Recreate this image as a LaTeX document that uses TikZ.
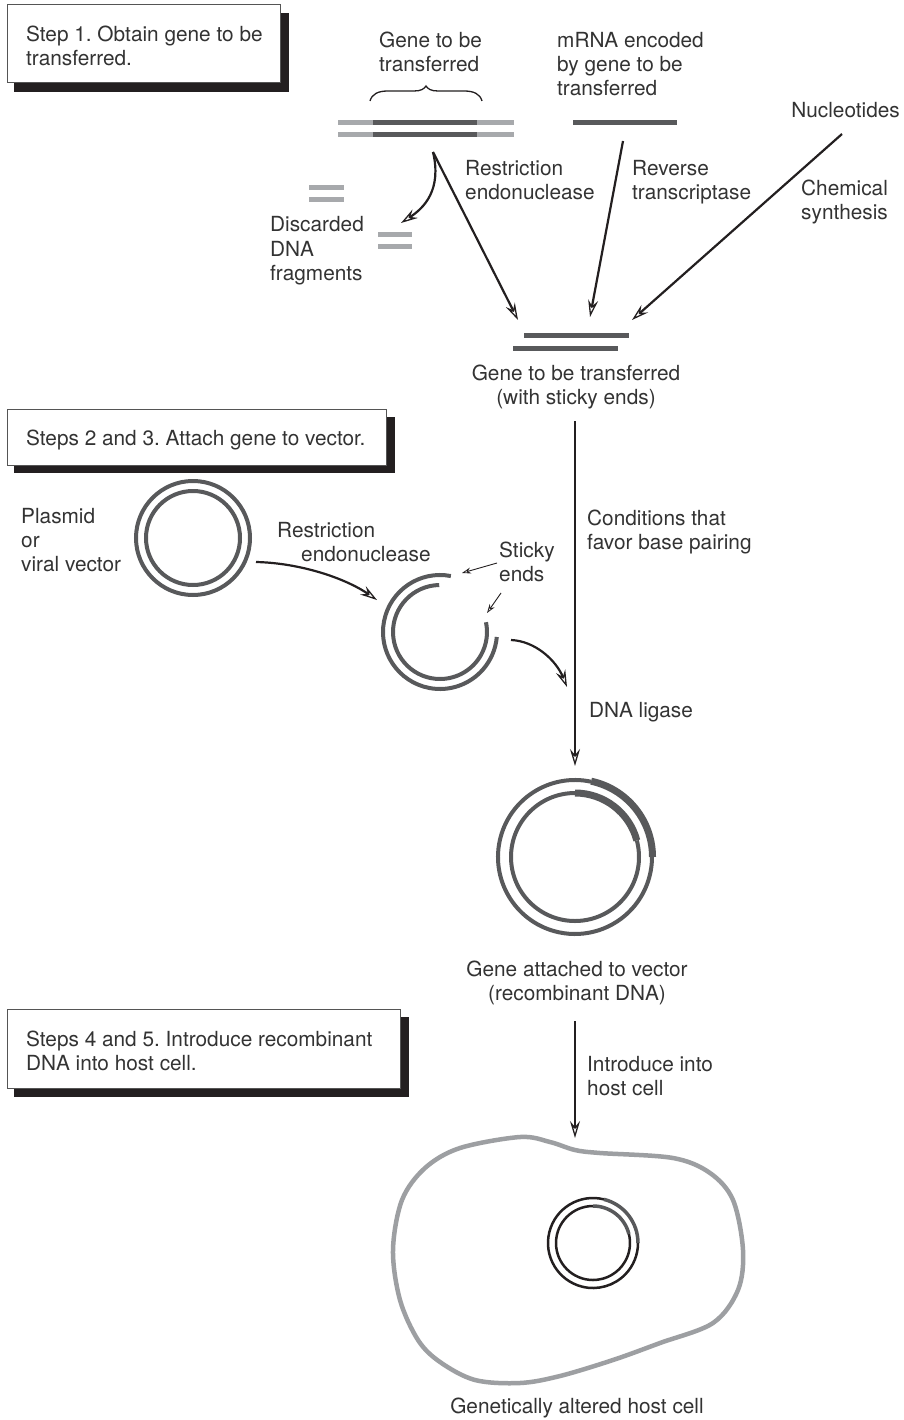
\documentclass[tikz,border=0pt]{standalone}
\usepackage{fontspec}
\setmainfont{TeX Gyre Heros}
\usetikzlibrary{arrows.meta}
\definecolor{ink}{HTML}{231F20}
\definecolor{txt}{HTML}{333333}
\definecolor{dna}{HTML}{58595B}
\definecolor{dnal}{HTML}{A7A9AC}
\definecolor{cellc}{HTML}{9D9FA2}
\definecolor{boxedge}{HTML}{555555}
\frenchspacing
\begin{document}
\begin{tikzpicture}[x=1pt,y=-1pt,
  lbl/.style={anchor=base west, align=left, inner sep=0pt, text=txt, font=\fontsize{20.8}{24}\selectfont},
  clbl/.style={anchor=base, align=center, inner sep=0pt, text=txt, font=\fontsize{20.8}{24}\selectfont},
  strand/.style={line width=5pt, dna},
  lstrand/.style={line width=5pt, dnal},
  ring/.style={line width=4pt, dna},
  genering/.style={line width=7pt, dna},
  arr/.style={ink, line width=2.2pt, -{Stealth[length=17pt,width=10pt,inset=6pt,open,fill=white,line width=1.3pt]}},
  sarr/.style={ink, line width=0.9pt, -{Stealth[length=9pt,width=6pt,inset=3pt,open,fill=white,line width=0.8pt]}},
  shadowbox/.style={fill=ink},
  stepbox/.style={draw=boxedge, line width=1pt, fill=white}]
\useasboundingbox (0,0) rectangle (903,1420);
\fill[white] (0,0) rectangle (903,1420);

% ---- step boxes (multi-line labels are anchored at the baseline of their last line)
\fill[shadowbox] (14,13) rectangle (289,92);
\draw[stepbox] (7,5) rectangle (280,83);
\node[lbl] (t1) at (26,66) {Step 1. Obtain gene to be\\transferred.};

\fill[shadowbox] (14,417) rectangle (395,473);
\draw[stepbox] (7,409) rectangle (386,465);
\node[lbl] (t2) at (26,445) {Steps 2 and 3. Attach gene to vector.};

\fill[shadowbox] (14,1017) rectangle (409,1097);
\draw[stepbox] (7,1009) rectangle (400,1088);
\node[lbl] (t3) at (26,1070) {Steps 4 and 5. Introduce recombinant\\DNA into host cell.};

% ---- source DNA
\draw[lstrand] (338,123) -- (373,123);
\draw[strand] (373,123) -- (477,123);
\draw[lstrand] (477,123) -- (514,123);
\draw[lstrand] (338,135) -- (373,135);
\draw[strand] (373,135) -- (477,135);
\draw[lstrand] (477,135) -- (514,135);
\draw[ink, line width=1.3pt] (370,101) .. controls (372,94) and (378,91) .. (388,91) -- (414,91)
   .. controls (421,91) and (424,89) .. (426,86) .. controls (428,89) and (431,91) .. (438,91)
   -- (464,91) .. controls (474,91) and (480,94) .. (482,101);
\node[lbl] (g1) at (379,72) {Gene to be\\transferred};

% mRNA
\draw[strand] (573,123) -- (677,123);
\node[lbl] (m1) at (557,96) {mRNA encoded\\by gene to be\\transferred};
\node[lbl, anchor=base east] (nuc) at (900,118) {Nucleotides};

% labels on arrows
\node[lbl] (re1) at (465,200) {Restriction\\endonuclease};
\node[lbl] (rt) at (632,200) {Reverse\\transcriptase};
\node[lbl] (cs) at (801,220) {Chemical\\synthesis};
\node[lbl] (disc) at (270,280) {Discarded\\DNA\\fragments};

% discarded fragments
\draw[lstrand] (309,188) -- (344,188);
\draw[lstrand] (309,200) -- (344,200);
\draw[lstrand] (378,235) -- (412,235);
\draw[lstrand] (378,247) -- (412,247);

% arrows to sticky-ended gene
\coordinate (cut) at (433,152);
\coordinate (sticky) at (518,320);
\coordinate (disce) at (401,223);
\draw[arr] (cut) .. controls (442,190) and (424,208) .. (disce);
\draw[arr] (cut) -- (sticky);
\coordinate (mr) at (623,141);
\coordinate (rtend) at (590,317);
\draw[arr] (mr) -- (rtend);
\coordinate (nu) at (842,134);
\coordinate (csend) at (632,320);
\draw[arr] (nu) -- (csend);

% sticky-ended gene
\draw[strand] (524,335) -- (629,335);
\draw[strand] (513,348) -- (618,348);
\node[clbl] (gs) at (576,404) {Gene to be transferred\\(with sticky ends)};

% main vertical arrow
\coordinate (v1s) at (575,421);
\coordinate (v1e) at (575,766);
\draw[arr] (v1s) -- (v1e);
\node[lbl] (cond) at (587,549) {Conditions that\\favor base pairing};
\node[lbl] (lig) at (589,717) {DNA ligase};

% plasmid
\draw[ring] (193,538) circle[radius=57];
\draw[ring] (193,538) circle[radius=47];
\node[lbl] (pl) at (21,571) {Plasmid\\or\\viral vector};
\coordinate (p1) at (256,562);
\coordinate (p2) at (377,600);
\draw[arr] (p1) .. controls (300,563) and (345,578) .. (p2);
\node[lbl] (re2a) at (277,537) {Restriction};
\node[lbl] (re2b) at (301,561) {endonuclease};

% cut plasmid
\draw[ring] (440,632) ++(-79:57) arc[start angle=-79, end angle=-355, radius=57];
\draw[ring] (440,632) ++(-91:47) arc[start angle=-91, end angle=-372, radius=47];
\node[lbl] (se) at (499,581) {Sticky\\ends};
\coordinate (se1s) at (497,563);
\coordinate (se1e) at (462,573);
\coordinate (se2s) at (501,593);
\coordinate (se2e) at (487,613);
\draw[sarr] (se1s) -- (se1e);
\draw[sarr] (se2s) -- (se2e);
\coordinate (c1) at (511,640);
\coordinate (c2) at (567,687);
\draw[arr] (c1) .. controls (535,641) and (556,660) .. (c2);

% recombinant plasmid
\draw[ring] (575,857) ++(-78:77) arc[start angle=-78, end angle=-360, radius=77];
\draw[genering] (575,857) ++(0:77.5) arc[start angle=0, end angle=-78, radius=77.5];
\draw[ring] (575,857) ++(-90:64) arc[start angle=-90, end angle=-375, radius=64];
\draw[genering] (575,857) ++(-15:64) arc[start angle=-15, end angle=-90, radius=64];
\node[clbl] (ga) at (577,1000) {Gene attached to vector\\(recombinant DNA)};

% second vertical arrow
\coordinate (v2s) at (575,1021);
\coordinate (v2e) at (575,1138);
\draw[arr] (v2s) -- (v2e);
\node[lbl] (intro) at (587,1095) {Introduce into\\host cell};

% host cell
\draw[cellc, line width=4.5pt] plot[smooth cycle, tension=0.55] coordinates {
 (393,1250) (402,1200) (425,1168) (460,1148) (520,1137) (550,1142) (575,1150) (600,1153)
 (673,1158) (710,1173) (733,1200) (743,1250) (738,1290) (713,1323) (660,1343) (613,1360)
 (560,1376) (520,1383) (475,1380) (440,1362) (418,1340) (400,1300)};
\draw[ink, line width=2.5pt] (593,1243) ++(-76:45) arc[start angle=-76, end angle=-360, radius=45];
\draw[dna, line width=3.5pt] (593,1243) ++(0:45) arc[start angle=0, end angle=-76, radius=45];
\draw[ink, line width=2.5pt] (593,1243) ++(-90:37) arc[start angle=-90, end angle=-374, radius=37];
\draw[dna, line width=3.5pt] (593,1243) ++(-14:37) arc[start angle=-14, end angle=-90, radius=37];
\node[clbl] (gah) at (577,1413) {Genetically altered host cell};
\end{tikzpicture}
\end{document}
